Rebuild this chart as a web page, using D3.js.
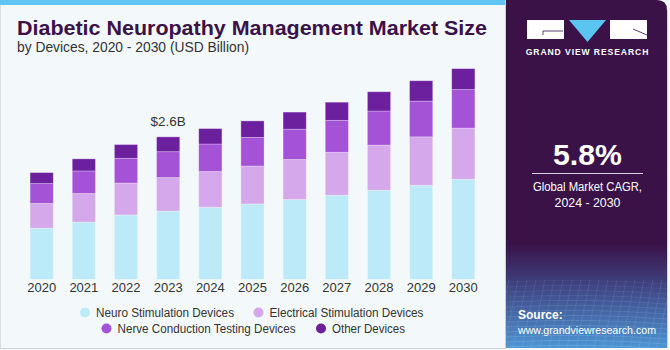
<!DOCTYPE html>
<html>
<head>
  <meta charset="utf-8">
  <title>Diabetic Neuropathy Management Market Size</title>
  <style>
    body { margin: 0; background: #fff; }
    svg { display: block; font-family: "Liberation Sans", Arial, sans-serif; }
    .year { font-size: 13px; fill: #333; }
    .legend text { font-size: 12.5px; fill: #333; }
  </style>
</head>
<body>
  <div id="chart"></div>
  <script src="https://d3js.org/d3.v7.min.js"></script>
  <script>
    // data (USD billion)
    const years = ['2020', '2021', '2022', '2023', '2024', '2025', '2026', '2027', '2028', '2029', '2030'];
    const neuro = [0.93, 1.04, 1.17, 1.24, 1.31, 1.37, 1.45, 1.53, 1.62, 1.71, 1.82];
    const electrical = [0.45, 0.52, 0.58, 0.61, 0.65, 0.69, 0.73, 0.78, 0.82, 0.88, 0.93];
    const nerve = [0.36, 0.41, 0.45, 0.47, 0.50, 0.52, 0.55, 0.58, 0.62, 0.65, 0.70];
    const other = [0.20, 0.22, 0.25, 0.27, 0.28, 0.30, 0.31, 0.33, 0.35, 0.37, 0.38];
    const seriesNames = ['Neuro Stimulation Devices', 'Electrical Stimulation Devices',
      'Nerve Conduction Testing Devices', 'Other Devices'];
    const colors = ['#bdeaf8', '#d4a8ea', '#a452d6', '#6d209e'];
    const labelYear = '2023', labelText = '$2.6B';

    const W = 670, H = 350;
    const svg = d3.select('#chart').append('svg')
      .attr('width', W).attr('height', H);

    // background
    svg.append('rect').attr('width', W).attr('height', H).attr('fill', '#f3f8fb');
    svg.append('rect').attr('x', 0).attr('y', 0).attr('width', 506).attr('height', 5).attr('fill', '#5ec6f0');
    svg.append('line').attr('x1', 0.5).attr('x2', 0.5).attr('y1', 5).attr('y2', 348).attr('stroke', '#d8dde2');
    svg.append('line').attr('x1', 0).attr('x2', 506).attr('y1', 348.5).attr('y2', 348.5).attr('stroke', '#cfd4d9');

    // titles
    svg.append('text').attr('x', 17).attr('y', 35)
      .attr('font-size', 21).attr('font-weight', 'bold').attr('fill', '#3a1248')
      .attr('textLength', 470).attr('lengthAdjust', 'spacingAndGlyphs')
      .text('Diabetic Neuropathy Management Market Size');
    svg.append('text').attr('x', 17).attr('y', 52)
      .attr('font-size', 14).attr('fill', '#333')
      .attr('textLength', 232).attr('lengthAdjust', 'spacingAndGlyphs')
      .text('by Devices, 2020 - 2030 (USD Billion)');

    // scales
    const x = d3.scaleBand().domain(years).range([20.6, 484.4])
      .paddingInner(0.45).paddingOuter(0.225);
    const y = d3.scaleLinear().domain([0, 4]).range([279.3, 59.3]);

    const rows = years.map((yr, i) => ({
      year: yr, s0: neuro[i], s1: electrical[i], s2: nerve[i], s3: other[i]
    }));
    const stack = d3.stack().keys(['s0', 's1', 's2', 's3'])(rows);

    svg.append('g').selectAll('g').data(stack).join('g')
      .attr('fill', (d, i) => colors[i])
      .selectAll('rect').data(d => d).join('rect')
      .attr('x', d => x(d.data.year))
      .attr('y', d => y(d[1]))
      .attr('width', x.bandwidth())
      .attr('height', d => y(d[0]) - y(d[1]))
      .attr('stroke', 'rgba(255,255,255,0.35)')
      .attr('stroke-width', 0.8);

    // x axis labels
    const xAxis = svg.append('g').attr('transform', 'translate(0,279)')
      .call(d3.axisBottom(x).tickSize(0).tickPadding(4));
    xAxis.select('.domain').remove();
    xAxis.selectAll('text').attr('class', 'year').attr('font-family', null).attr('font-size', null).attr('fill', null)
      .attr('dy', '0.71em');

    // value label
    const li = years.indexOf(labelYear);
    const total = neuro[li] + electrical[li] + nerve[li] + other[li];
    svg.append('text')
      .attr('x', x(labelYear) + x.bandwidth() / 2)
      .attr('y', y(total) - 11)
      .attr('text-anchor', 'middle').attr('font-size', 13.5).attr('fill', '#333')
      .text(labelText);

    // legend
    const legendPos = [
      { cx: 85, cy: 312.5, w: 138 }, { cx: 258.5, cy: 312.5, w: 154 },
      { cx: 106.5, cy: 328.5, w: 178 }, { cx: 321, cy: 328.5, w: 73 }
    ];
    const legend = svg.append('g').attr('class', 'legend');
    seriesNames.forEach((name, i) => {
      legend.append('circle').attr('cx', legendPos[i].cx).attr('cy', legendPos[i].cy)
        .attr('r', 5).attr('fill', colors[i]);
      legend.append('text').attr('x', legendPos[i].cx + 11).attr('y', legendPos[i].cy + 4.5)
        .attr('textLength', legendPos[i].w).attr('lengthAdjust', 'spacingAndGlyphs')
        .text(name);
    });

    // right panel
    const defs = svg.append('defs');
    const grad = defs.append('linearGradient').attr('id', 'panelGrad')
      .attr('x1', 0).attr('y1', 0).attr('x2', 0).attr('y2', 1);
    grad.append('stop').attr('offset', '0%').attr('stop-color', '#3a1248');
    grad.append('stop').attr('offset', '70%').attr('stop-color', '#3a1248');
    grad.append('stop').attr('offset', '80%').attr('stop-color', '#3f3a78');
    grad.append('stop').attr('offset', '100%').attr('stop-color', '#4d95d4');
    const clip = defs.append('clipPath').attr('id', 'panelClip');
    clip.append('path').attr('d', 'M506,0 H657 Q667,0 667,10 V348 H506 Z');

    svg.append('line').attr('x1', 505.5).attr('x2', 505.5).attr('y1', 0).attr('y2', 348).attr('stroke', '#c9ced6');
    const panel = svg.append('g').attr('clip-path', 'url(#panelClip)');
    panel.append('rect').attr('x', 506).attr('y', 0).attr('width', 161).attr('height', 348)
      .attr('fill', 'url(#panelGrad)');
    // grid texture at bottom
    const grid = panel.append('g').attr('stroke', '#9fd3f5').attr('stroke-width', 0.6).attr('fill', 'none');
    for (let gy = 282; gy < 348; gy += 5) {
      grid.append('path').attr('d', `M506,${gy} Q590,${gy - 4} 667,${gy + 2}`)
        .attr('stroke-opacity', 0.12 + (gy - 282) / 66 * 0.3);
    }
    for (let gx = 500; gx < 680; gx += 9) {
      grid.append('line').attr('x1', gx).attr('y1', 280).attr('x2', gx - 14).attr('y2', 348)
        .attr('stroke-opacity', 0.22);
    }
    svg.append('line').attr('x1', 667.5).attr('x2', 667.5).attr('y1', 10).attr('y2', 348).attr('stroke', '#d0d4da');

    // logo
    const logo = svg.append('g');
    logo.append('rect').attr('x', 527).attr('y', 20).attr('width', 37).attr('height', 19).attr('fill', '#fff');
    logo.append('path').attr('d', 'M543,31 H563 M543,31 V35').attr('stroke', '#3a1248').attr('stroke-width', 0.8).attr('fill', 'none');
    logo.append('path').attr('d', 'M569,20 H606 L587.5,42 Z').attr('fill', '#5bc5f2');
    logo.append('rect').attr('x', 610).attr('y', 20).attr('width', 37).attr('height', 19).attr('fill', '#fff');
    logo.append('path').attr('d', 'M633,29 L647,35').attr('stroke', '#3a1248').attr('stroke-width', 0.8);
    logo.append('text').attr('x', 587.5).attr('y', 55).attr('text-anchor', 'middle')
      .attr('font-size', 8.6).attr('font-weight', 'bold').attr('fill', '#fff')
      .attr('letter-spacing', 0.9).text('GRAND VIEW RESEARCH');

    // CAGR
    svg.append('text').attr('x', 587.5).attr('y', 165).attr('text-anchor', 'middle')
      .attr('font-size', 29).attr('font-weight', 'bold').attr('fill', '#fff')
      .attr('textLength', 69).attr('lengthAdjust', 'spacingAndGlyphs').text('5.8%');
    svg.append('line').attr('x1', 532).attr('x2', 643).attr('y1', 173.5).attr('y2', 173.5)
      .attr('stroke', '#d8d0e0').attr('stroke-width', 1);
    svg.append('text').attr('x', 587.5).attr('y', 191).attr('text-anchor', 'middle')
      .attr('font-size', 12.5).attr('fill', '#fff')
      .attr('textLength', 109).attr('lengthAdjust', 'spacingAndGlyphs').text('Global Market CAGR,');
    svg.append('text').attr('x', 587.5).attr('y', 207).attr('text-anchor', 'middle')
      .attr('font-size', 12.5).attr('fill', '#fff')
      .attr('textLength', 66).attr('lengthAdjust', 'spacingAndGlyphs').text('2024 - 2030');

    // source
    svg.append('text').attr('x', 518).attr('y', 319)
      .attr('font-size', 12).attr('font-weight', 'bold').attr('fill', '#fff').text('Source:');
    svg.append('text').attr('x', 518).attr('y', 334)
      .attr('font-size', 11).attr('fill', '#fff')
      .attr('textLength', 138).attr('lengthAdjust', 'spacingAndGlyphs').text('www.grandviewresearch.com');
  </script>
</body>
</html>
